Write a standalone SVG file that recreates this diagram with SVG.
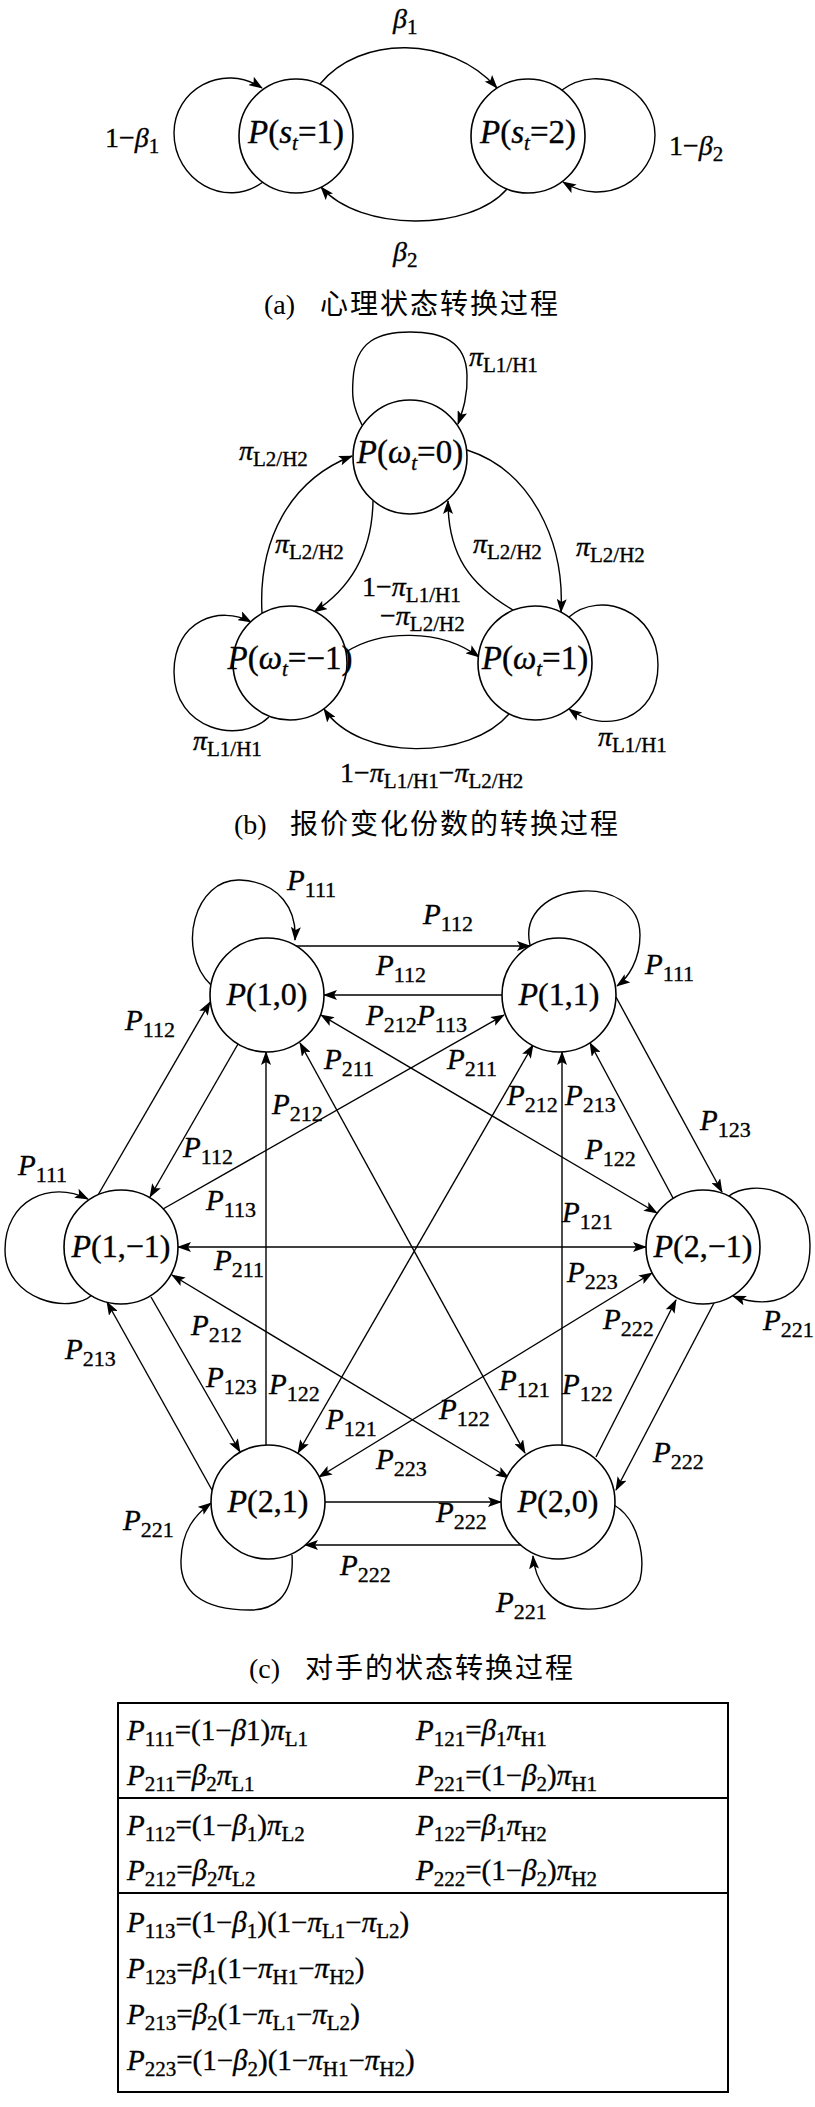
<svg xmlns="http://www.w3.org/2000/svg" width="815" height="2107" viewBox="0 0 815 2107">
<defs>
<marker id="ah" viewBox="0 0 14 10" refX="13" refY="5" markerWidth="14" markerHeight="10" markerUnits="userSpaceOnUse" orient="auto-start-reverse"><path d="M0,0 L14,5 L0,10 L3,5 z" fill="#000"/></marker>
<style>
.nd{fill:#fff;stroke:#000;stroke-width:1.6}
.ln{fill:none;stroke:#000;stroke-width:1.4}
.t{font-family:"Liberation Serif","Times New Roman",serif;fill:#000;stroke:#000;stroke-width:0.35}
.lb{font-size:28px}
.lc{font-size:29px}
.nl{font-size:33px}
.nc{font-size:32px}
.i{font-style:italic}
.sb{font-size:21px}
.sc{font-size:22px}
.cap{font-family:"Liberation Serif","Noto Sans CJK SC",serif;font-size:28px;fill:#000}
.cj{font-family:"Noto Sans CJK SC",sans-serif;font-size:28px;letter-spacing:2px}
.tb{font-size:29px}
</style>
</defs>
<rect x="0" y="0" width="815" height="2107" fill="#fff"/>

<!-- (a) -->
<g id="connectors-a">
<path class="ln" d="M320 84 C360 35 450 35 497 88" marker-end="url(#ah)"/>
<path class="ln" d="M507 189 C470 232 360 232 321 187" marker-end="url(#ah)"/>
<path class="ln" d="M263 182 C225 210 174 180 174 133 C174 90 222 62 262 88" marker-end="url(#ah)"/>
<path class="ln" d="M562 90 C600 62 655 90 655 135 C655 180 605 208 563 182" marker-end="url(#ah)"/>
</g>
<g id="node-a-s1"><circle class="nd" cx="296" cy="136" r="57"/>
<text class="t nl" x="296" y="143" text-anchor="middle"><tspan class="i">P</tspan>(<tspan class="i">s</tspan><tspan class="i sb" dy="7">t</tspan><tspan dy="-7">=1)</tspan></text></g>
<g id="node-a-s2"><circle class="nd" cx="528" cy="136" r="57"/>
<text class="t nl" x="528" y="143" text-anchor="middle"><tspan class="i">P</tspan>(<tspan class="i">s</tspan><tspan class="i sb" dy="7">t</tspan><tspan dy="-7">=2)</tspan></text></g>
<g id="labels-a" class="t lb">
<text x="393" y="28"><tspan class="i">β</tspan><tspan class="sb" dy="6">1</tspan></text>
<text x="393" y="261"><tspan class="i">β</tspan><tspan class="sb" dy="6">2</tspan></text>
<text x="105" y="147">1−<tspan class="i">β</tspan><tspan class="sb" dy="6">1</tspan></text>
<text x="669" y="155">1−<tspan class="i">β</tspan><tspan class="sb" dy="6">2</tspan></text>
</g>
<text class="cap" x="264" y="314">(a)<tspan class="cj" x="320">心理状态转换过程</tspan></text>

<!-- (b) -->
<g id="connectors-b">
<path class="ln" d="M362 425 C352 405 352 395 353 380 C355 340 380 332 410 332 C440 332 466 340 467 375 C468 395 463 410 458 424" marker-end="url(#ah)"/>
<path class="ln" d="M262 613 C258 540 290 480 352 456" marker-end="url(#ah)"/>
<path class="ln" d="M373 501 C372 560 345 592 314 612" marker-end="url(#ah)"/>
<path class="ln" d="M513 610 C470 585 448 555 448 501" marker-end="url(#ah)"/>
<path class="ln" d="M467 450 C530 470 565 540 561 612" marker-end="url(#ah)"/>
<path class="ln" d="M346 652 C380 630 440 628 479 657" marker-end="url(#ah)"/>
<path class="ln" d="M509 714 C470 760 360 762 324 709" marker-end="url(#ah)"/>
<path class="ln" d="M269 717 C240 745 174 730 174 672 C174 620 220 605 251 622" marker-end="url(#ah)"/>
<path class="ln" d="M569 617 C600 590 658 610 658 665 C658 720 605 735 569 709" marker-end="url(#ah)"/>
</g>
<g id="node-b-0"><circle class="nd" cx="410" cy="457" r="57"/>
<text class="t nl" x="410" y="463" text-anchor="middle"><tspan class="i">P</tspan>(<tspan class="i">ω</tspan><tspan class="i sb" dy="7">t</tspan><tspan dy="-7">=0)</tspan></text></g>
<g id="node-b-m1"><circle class="nd" cx="290" cy="663" r="57"/>
<text class="t nl" x="290" y="669" text-anchor="middle"><tspan class="i">P</tspan>(<tspan class="i">ω</tspan><tspan class="i sb" dy="7">t</tspan><tspan dy="-7">=−1)</tspan></text></g>
<g id="node-b-1"><circle class="nd" cx="535" cy="663" r="57"/>
<text class="t nl" x="535" y="669" text-anchor="middle"><tspan class="i">P</tspan>(<tspan class="i">ω</tspan><tspan class="i sb" dy="7">t</tspan><tspan dy="-7">=1)</tspan></text></g>
<g id="labels-b" class="t lb">
<text x="469" y="366"><tspan class="i">π</tspan><tspan class="sb" dy="6">L1/H1</tspan></text>
<text x="239" y="460"><tspan class="i">π</tspan><tspan class="sb" dy="6">L2/H2</tspan></text>
<text x="275" y="553"><tspan class="i">π</tspan><tspan class="sb" dy="6">L2/H2</tspan></text>
<text x="473" y="553"><tspan class="i">π</tspan><tspan class="sb" dy="6">L2/H2</tspan></text>
<text x="576" y="556"><tspan class="i">π</tspan><tspan class="sb" dy="6">L2/H2</tspan></text>
<text x="362" y="596">1−<tspan class="i">π</tspan><tspan class="sb" dy="6">L1/H1</tspan></text>
<text x="380" y="625">−<tspan class="i">π</tspan><tspan class="sb" dy="6">L2/H2</tspan></text>
<text x="193" y="750"><tspan class="i">π</tspan><tspan class="sb" dy="6">L1/H1</tspan></text>
<text x="598" y="746"><tspan class="i">π</tspan><tspan class="sb" dy="6">L1/H1</tspan></text>
<text x="340" y="782">1−<tspan class="i">π</tspan><tspan class="sb" dy="6">L1/H1</tspan><tspan dy="-6">−</tspan><tspan class="i">π</tspan><tspan class="sb" dy="6">L2/H2</tspan></text>
</g>
<text class="cap" x="234" y="834">(b)<tspan class="cj" x="290">报价变化份数的转换过程</tspan></text>

<!-- (c) -->
<g id="connectors-c">
<path class="ln" d="M211 985 C175 950 195 878 240 880 C280 882 297 910 295 940" marker-end="url(#ah)"/>
<path class="ln" d="M530 945 C515 880 640 870 640 935 C640 960 628 978 617 986" marker-end="url(#ah)"/>
<path class="ln" d="M92 1295 C70 1315 5 1300 5 1250 C5 1200 50 1180 88 1199" marker-end="url(#ah)"/>
<path class="ln" d="M729 1196 C750 1180 810 1185 810 1245 C810 1300 770 1310 733 1296" marker-end="url(#ah)"/>
<path class="ln" d="M292 1555 C295 1600 270 1610 250 1610 C200 1610 180 1590 181 1560 C182 1530 195 1515 211 1503" marker-end="url(#ah)"/>
<path class="ln" d="M614 1505 C640 1520 645 1560 640 1580 C630 1605 600 1612 575 1608 C550 1604 535 1580 533 1556" marker-end="url(#ah)"/>
<path class="ln" d="M296 946 L530 946" marker-end="url(#ah)"/>
<path class="ln" d="M502 995 L324 995" marker-end="url(#ah)"/>
<path class="ln" d="M98 1195 L210 1002" marker-end="url(#ah)"/>
<path class="ln" d="M238 1044 L150 1197" marker-end="url(#ah)"/>
<path class="ln" d="M163 1209 L504 1015" marker-end="url(#ah)"/>
<path class="ln" d="M321 1015 L657 1213" marker-start="url(#ah)" marker-end="url(#ah)"/>
<path class="ln" d="M266 1445 L266 1052" marker-end="url(#ah)"/>
<path class="ln" d="M562 1445 L562 1052" marker-end="url(#ah)"/>
<path class="ln" d="M300 1043 L525 1453" marker-start="url(#ah)" marker-end="url(#ah)"/>
<path class="ln" d="M533 1045 L298 1453" marker-start="url(#ah)" marker-end="url(#ah)"/>
<path class="ln" d="M673 1198 L590 1043" marker-end="url(#ah)"/>
<path class="ln" d="M616 997 L722 1192" marker-end="url(#ah)"/>
<path class="ln" d="M178 1247 L646 1247" marker-start="url(#ah)" marker-end="url(#ah)"/>
<path class="ln" d="M172 1275 L509 1478" marker-start="url(#ah)" marker-end="url(#ah)"/>
<path class="ln" d="M151 1297 L240 1452" marker-end="url(#ah)"/>
<path class="ln" d="M212 1490 L107 1302" marker-end="url(#ah)"/>
<path class="ln" d="M319 1477 L652 1273" marker-start="url(#ah)" marker-end="url(#ah)"/>
<path class="ln" d="M596 1457 L676 1300" marker-end="url(#ah)"/>
<path class="ln" d="M714 1303 L616 1490" marker-end="url(#ah)"/>
<path class="ln" d="M325 1502 L501 1502" marker-end="url(#ah)"/>
<path class="ln" d="M521 1545 L305 1545" marker-end="url(#ah)"/>
</g>
<g id="node-c-1-0"><circle class="nd" cx="267" cy="995" r="57"/>
<text class="t nc" x="267" y="1005" text-anchor="middle"><tspan class="i">P</tspan>(1,0)</text></g>
<g id="node-c-1-1"><circle class="nd" cx="559" cy="995" r="57"/>
<text class="t nc" x="559" y="1005" text-anchor="middle"><tspan class="i">P</tspan>(1,1)</text></g>
<g id="node-c-1-m1"><circle class="nd" cx="121" cy="1247" r="57"/>
<text class="t nc" x="121" y="1257" text-anchor="middle"><tspan class="i">P</tspan>(1,−1)</text></g>
<g id="node-c-2-m1"><circle class="nd" cx="703" cy="1247" r="57"/>
<text class="t nc" x="703" y="1257" text-anchor="middle"><tspan class="i">P</tspan>(2,−1)</text></g>
<g id="node-c-2-1"><circle class="nd" cx="268" cy="1502" r="57"/>
<text class="t nc" x="268" y="1512" text-anchor="middle"><tspan class="i">P</tspan>(2,1)</text></g>
<g id="node-c-2-0"><circle class="nd" cx="558" cy="1502" r="57"/>
<text class="t nc" x="558" y="1512" text-anchor="middle"><tspan class="i">P</tspan>(2,0)</text></g>
<g id="labels-c" class="t lc">
<text x="287" y="890"><tspan class="i">P</tspan><tspan class="sc" dy="7">111</tspan></text>
<text x="423" y="924"><tspan class="i">P</tspan><tspan class="sc" dy="7">112</tspan></text>
<text x="376" y="975"><tspan class="i">P</tspan><tspan class="sc" dy="7">112</tspan></text>
<text x="645" y="974"><tspan class="i">P</tspan><tspan class="sc" dy="7">111</tspan></text>
<text x="366" y="1025"><tspan class="i">P</tspan><tspan class="sc" dy="7">212</tspan></text>
<text x="417" y="1025"><tspan class="i">P</tspan><tspan class="sc" dy="7">113</tspan></text>
<text x="125" y="1030"><tspan class="i">P</tspan><tspan class="sc" dy="7">112</tspan></text>
<text x="324" y="1069"><tspan class="i">P</tspan><tspan class="sc" dy="7">211</tspan></text>
<text x="447" y="1069"><tspan class="i">P</tspan><tspan class="sc" dy="7">211</tspan></text>
<text x="272" y="1114"><tspan class="i">P</tspan><tspan class="sc" dy="7">212</tspan></text>
<text x="507" y="1105"><tspan class="i">P</tspan><tspan class="sc" dy="7">212</tspan></text>
<text x="565" y="1105"><tspan class="i">P</tspan><tspan class="sc" dy="7">213</tspan></text>
<text x="700" y="1130"><tspan class="i">P</tspan><tspan class="sc" dy="7">123</tspan></text>
<text x="183" y="1157"><tspan class="i">P</tspan><tspan class="sc" dy="7">112</tspan></text>
<text x="585" y="1159"><tspan class="i">P</tspan><tspan class="sc" dy="7">122</tspan></text>
<text x="18" y="1175"><tspan class="i">P</tspan><tspan class="sc" dy="7">111</tspan></text>
<text x="206" y="1210"><tspan class="i">P</tspan><tspan class="sc" dy="7">113</tspan></text>
<text x="562" y="1222"><tspan class="i">P</tspan><tspan class="sc" dy="7">121</tspan></text>
<text x="214" y="1270"><tspan class="i">P</tspan><tspan class="sc" dy="7">211</tspan></text>
<text x="567" y="1282"><tspan class="i">P</tspan><tspan class="sc" dy="7">223</tspan></text>
<text x="603" y="1329"><tspan class="i">P</tspan><tspan class="sc" dy="7">222</tspan></text>
<text x="763" y="1330"><tspan class="i">P</tspan><tspan class="sc" dy="7">221</tspan></text>
<text x="191" y="1335"><tspan class="i">P</tspan><tspan class="sc" dy="7">212</tspan></text>
<text x="65" y="1359"><tspan class="i">P</tspan><tspan class="sc" dy="7">213</tspan></text>
<text x="206" y="1387"><tspan class="i">P</tspan><tspan class="sc" dy="7">123</tspan></text>
<text x="269" y="1394"><tspan class="i">P</tspan><tspan class="sc" dy="7">122</tspan></text>
<text x="499" y="1390"><tspan class="i">P</tspan><tspan class="sc" dy="7">121</tspan></text>
<text x="562" y="1394"><tspan class="i">P</tspan><tspan class="sc" dy="7">122</tspan></text>
<text x="439" y="1419"><tspan class="i">P</tspan><tspan class="sc" dy="7">122</tspan></text>
<text x="326" y="1429"><tspan class="i">P</tspan><tspan class="sc" dy="7">121</tspan></text>
<text x="653" y="1462"><tspan class="i">P</tspan><tspan class="sc" dy="7">222</tspan></text>
<text x="376" y="1469"><tspan class="i">P</tspan><tspan class="sc" dy="7">223</tspan></text>
<text x="436" y="1522"><tspan class="i">P</tspan><tspan class="sc" dy="7">222</tspan></text>
<text x="123" y="1530"><tspan class="i">P</tspan><tspan class="sc" dy="7">221</tspan></text>
<text x="340" y="1575"><tspan class="i">P</tspan><tspan class="sc" dy="7">222</tspan></text>
<text x="496" y="1612"><tspan class="i">P</tspan><tspan class="sc" dy="7">221</tspan></text>
</g>
<text class="cap" x="249" y="1678">(c)<tspan class="cj" x="305">对手的状态转换过程</tspan></text>

<!-- table -->
<g id="table">
<rect x="118" y="1703" width="610" height="389" fill="none" stroke="#000" stroke-width="2"/>
<line x1="118" y1="1798" x2="728" y2="1798" stroke="#000" stroke-width="2"/>
<line x1="118" y1="1893" x2="728" y2="1893" stroke="#000" stroke-width="2"/>
<g class="t tb">
<text x="127" y="1740"><tspan class="i">P</tspan><tspan class="sb" dy="6">111</tspan><tspan dy="-6">=(1−</tspan><tspan class="i">β</tspan>1)<tspan class="i">π</tspan><tspan class="sb" dy="6">L1</tspan></text>
<text x="416" y="1740"><tspan class="i">P</tspan><tspan class="sb" dy="6">121</tspan><tspan dy="-6">=</tspan><tspan class="i">β</tspan><tspan class="sb" dy="6">1</tspan><tspan class="i" dy="-6">π</tspan><tspan class="sb" dy="6">H1</tspan></text>
<text x="127" y="1785"><tspan class="i">P</tspan><tspan class="sb" dy="6">211</tspan><tspan dy="-6">=</tspan><tspan class="i">β</tspan><tspan class="sb" dy="6">2</tspan><tspan class="i" dy="-6">π</tspan><tspan class="sb" dy="6">L1</tspan></text>
<text x="416" y="1785"><tspan class="i">P</tspan><tspan class="sb" dy="6">221</tspan><tspan dy="-6">=(1−</tspan><tspan class="i">β</tspan><tspan class="sb" dy="6">2</tspan><tspan dy="-6">)</tspan><tspan class="i">π</tspan><tspan class="sb" dy="6">H1</tspan></text>
<text x="127" y="1835"><tspan class="i">P</tspan><tspan class="sb" dy="6">112</tspan><tspan dy="-6">=(1−</tspan><tspan class="i">β</tspan><tspan class="sb" dy="6">1</tspan><tspan dy="-6">)</tspan><tspan class="i">π</tspan><tspan class="sb" dy="6">L2</tspan></text>
<text x="416" y="1835"><tspan class="i">P</tspan><tspan class="sb" dy="6">122</tspan><tspan dy="-6">=</tspan><tspan class="i">β</tspan><tspan class="sb" dy="6">1</tspan><tspan class="i" dy="-6">π</tspan><tspan class="sb" dy="6">H2</tspan></text>
<text x="127" y="1880"><tspan class="i">P</tspan><tspan class="sb" dy="6">212</tspan><tspan dy="-6">=</tspan><tspan class="i">β</tspan><tspan class="sb" dy="6">2</tspan><tspan class="i" dy="-6">π</tspan><tspan class="sb" dy="6">L2</tspan></text>
<text x="416" y="1880"><tspan class="i">P</tspan><tspan class="sb" dy="6">222</tspan><tspan dy="-6">=(1−</tspan><tspan class="i">β</tspan><tspan class="sb" dy="6">2</tspan><tspan dy="-6">)</tspan><tspan class="i">π</tspan><tspan class="sb" dy="6">H2</tspan></text>
<text x="127" y="1932"><tspan class="i">P</tspan><tspan class="sb" dy="6">113</tspan><tspan dy="-6">=(1−</tspan><tspan class="i">β</tspan><tspan class="sb" dy="6">1</tspan><tspan dy="-6">)(1−</tspan><tspan class="i">π</tspan><tspan class="sb" dy="6">L1</tspan><tspan dy="-6">−</tspan><tspan class="i">π</tspan><tspan class="sb" dy="6">L2</tspan><tspan dy="-6">)</tspan></text>
<text x="127" y="1978"><tspan class="i">P</tspan><tspan class="sb" dy="6">123</tspan><tspan dy="-6">=</tspan><tspan class="i">β</tspan><tspan class="sb" dy="6">1</tspan><tspan dy="-6">(1−</tspan><tspan class="i">π</tspan><tspan class="sb" dy="6">H1</tspan><tspan dy="-6">−</tspan><tspan class="i">π</tspan><tspan class="sb" dy="6">H2</tspan><tspan dy="-6">)</tspan></text>
<text x="127" y="2024"><tspan class="i">P</tspan><tspan class="sb" dy="6">213</tspan><tspan dy="-6">=</tspan><tspan class="i">β</tspan><tspan class="sb" dy="6">2</tspan><tspan dy="-6">(1−</tspan><tspan class="i">π</tspan><tspan class="sb" dy="6">L1</tspan><tspan dy="-6">−</tspan><tspan class="i">π</tspan><tspan class="sb" dy="6">L2</tspan><tspan dy="-6">)</tspan></text>
<text x="127" y="2070"><tspan class="i">P</tspan><tspan class="sb" dy="6">223</tspan><tspan dy="-6">=(1−</tspan><tspan class="i">β</tspan><tspan class="sb" dy="6">2</tspan><tspan dy="-6">)(1−</tspan><tspan class="i">π</tspan><tspan class="sb" dy="6">H1</tspan><tspan dy="-6">−</tspan><tspan class="i">π</tspan><tspan class="sb" dy="6">H2</tspan><tspan dy="-6">)</tspan></text>
</g>
</g>
</svg>
